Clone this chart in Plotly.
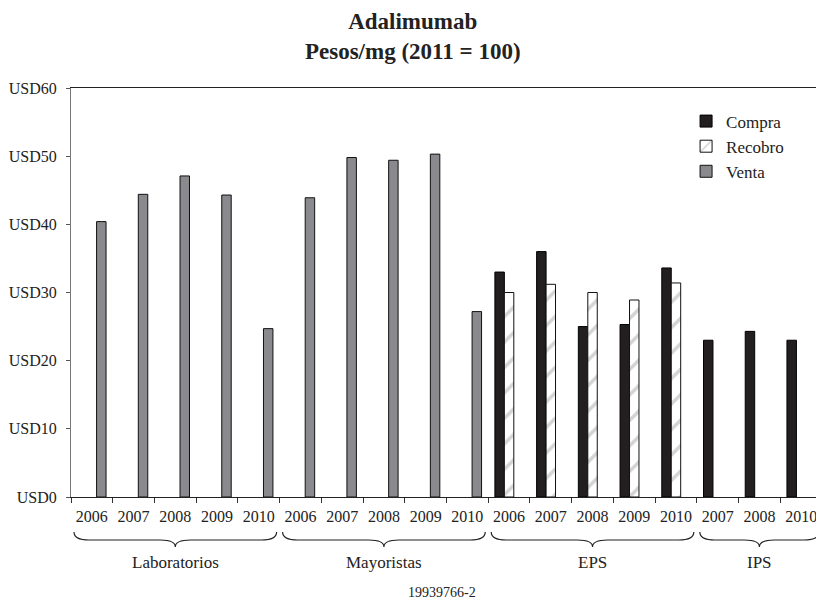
import plotly.graph_objects as go

groups = ["Laboratorios", "Mayoristas", "EPS", "IPS"]
years = [
    ["2006", "2007", "2008", "2009", "2010"],
    ["2006", "2007", "2008", "2009", "2010"],
    ["2006", "2007", "2008", "2009", "2010"],
    ["2007", "2008", "2010"],
]
compra = [None]*5 + [None]*5 + [33.0, 36.0, 25.0, 25.3, 33.6] + [23.0, 24.3, 23.0]
recobro = [None]*5 + [None]*5 + [30.0, 31.2, 30.0, 28.9, 31.4] + [None]*3
venta = [40.4, 44.4, 47.1, 44.3, 24.7] + [43.9, 49.8, 49.4, 50.3, 27.2] + [None]*5 + [None]*3

cats, labels = [], []
for g, ys in zip(groups, years):
    for y in ys:
        cats.append(f"{g} {y}")
        labels.append(y)
N = len(cats)

FONT = "Liberation Serif"
TXT = "#222"
fig = go.Figure()
fig.add_bar(name="Compra", x=cats, y=compra, marker=dict(color="#231f20", line=dict(color="#000", width=1)))
fig.add_bar(name="Recobro", x=cats, y=recobro,
            marker=dict(color="white", line=dict(color="#111", width=1),
                        pattern=dict(shape="/", fgcolor="#aaa", bgcolor="white", size=18, solidity=0.2)))
fig.add_bar(name="Venta", x=cats, y=venta, marker=dict(color="#8a8a8e", line=dict(color="#111", width=1)))

# braces and group labels, placed from category boundaries
shapes, annos = [], []
start = 0
top, mid, tip, d, ins = -0.0855, -0.1051, -0.122, 0.02, 0.004
for g, ys in zip(groups, years):
    x0 = start / N + ins
    x1 = (start + len(ys)) / N - ins
    xc = (x0 + x1) / 2
    path = (f"M {x0},{top} Q {x0},{mid} {x0+d},{mid} L {xc-d},{mid} Q {xc},{mid} {xc},{tip} "
            f"Q {xc},{mid} {xc+d},{mid} L {x1-d},{mid} Q {x1},{mid} {x1},{top}")
    shapes.append(dict(type="path", path=path, xref="paper", yref="paper", line=dict(color="#222", width=1.2)))
    annos.append(dict(text=g, x=xc, y=-0.159, xref="paper", yref="paper", showarrow=False,
                      font=dict(family=FONT, size=17, color=TXT), xanchor="center", yanchor="middle"))
    start += len(ys)
annos.append(dict(text="19939766-2", x=0.494, y=-0.233, xref="paper", yref="paper", showarrow=False,
                  font=dict(family=FONT, size=14, color=TXT), xanchor="center", yanchor="middle"))

# the page adds an 8px body margin, so the figure is sized to fit inside the window
fig.update_layout(
    width=816, height=593,
    margin=dict(l=63, r=2, t=80, b=104),
    paper_bgcolor="white", plot_bgcolor="white",
    barmode="group", bargap=0.32, bargroupgap=0,
    font=dict(family=FONT, size=16, color=TXT),
    title=dict(text="<b>Adalimumab<br>Pesos/mg (2011 = 100)</b>", x=0.496, xanchor="center",
               y=1 - 21 / 593, yanchor="middle", font=dict(family=FONT, size=23, color=TXT)),
    legend=dict(x=0.819, y=0.962, xanchor="left", yanchor="top", bgcolor="rgba(0,0,0,0)",
                font=dict(family=FONT, size=17, color=TXT), tracegroupgap=0),
    shapes=shapes, annotations=annos,
    xaxis=dict(type="category", tickmode="array", tickvals=cats, ticktext=labels, tickson="boundaries",
               ticks="outside", ticklen=5, tickcolor="#333", showline=True, linecolor="#222", mirror=True,
               showgrid=False, tickfont=dict(family=FONT, size=16, color=TXT), range=[-0.5, N - 0.5],
               ticklabelstandoff=5, automargin=False),
    yaxis=dict(range=[0, 60], dtick=10, tickprefix="USD", ticks="outside", ticklen=4, tickcolor="#555",
               showline=True, linecolor="#777", mirror=True, showgrid=False, zeroline=False,
               tickfont=dict(family=FONT, size=16, color=TXT), ticklabelstandoff=6, automargin=False),
)
fig.write_html("out.html")
